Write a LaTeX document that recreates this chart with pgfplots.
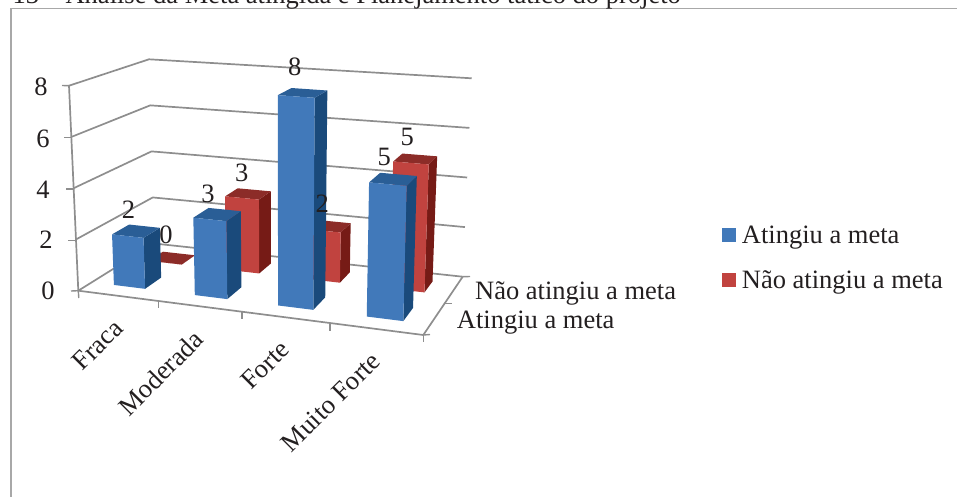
\documentclass[border=0pt]{standalone}
\usepackage{fontspec}
\setmainfont{Liberation Serif}
\usepackage{pgfplots}
\pgfplotsset{compat=1.18}

\definecolor{bluefront}{HTML}{4179BA}
\definecolor{bluetop}{HTML}{2A5E96}
\definecolor{blueside}{HTML}{1A4A7B}
\definecolor{redfront}{HTML}{C1433F}
\definecolor{redtop}{HTML}{8C2C28}
\definecolor{redside}{HTML}{761B16}
\definecolor{gridgray}{HTML}{8E8E8E}
\definecolor{framegray}{HTML}{A8A8A8}
\definecolor{txt}{HTML}{231F20}

% Projects chart space (X along categories, Y in depth, V the value 0..8)
% onto the page through the eight corners of the chart box.
\newcommand\addpt[3]{%
  \pgfmathsetmacro{\Zz}{(#3)/8}%
  \pgfmathsetmacro{\Fx}{(1-#1)*(1-#2)*78.3+#1*(1-#2)*423.3+#1*#2*462.7+(1-#1)*#2*154}%
  \pgfmathsetmacro{\Fy}{(1-#1)*(1-#2)*290.7+#1*(1-#2)*335+#1*#2*276.7+(1-#1)*#2*243.5}%
  \pgfmathsetmacro{\Tx}{(1-#1)*(1-#2)*69+#1*(1-#2)*429.3+#1*#2*471.7+(1-#1)*#2*149}%
  \pgfmathsetmacro{\Ty}{(1-#1)*(1-#2)*85.7+#1*(1-#2)*113+#1*#2*78.3+(1-#1)*#2*59.3}%
  \pgfmathsetmacro{\Px}{(1-\Zz)*\Fx+\Zz*\Tx}%
  \pgfmathsetmacro{\Py}{(1-\Zz)*\Fy+\Zz*\Ty}%
  \xdef\ptlist{\ptlist (\Px,\Py)}%
}
\newcommand\emitpts[1]{%
  \edef\plotcmd{\noexpand\addplot[#1] coordinates {\ptlist};}\plotcmd
  \gdef\ptlist{}%
}
\gdef\ptlist{}
% the three visible faces of a bar
\newcommand\drawbar[8]{% Xleft Xright Yfront Yback value front top side
  \addpt{#2}{#3}{0}\addpt{#2}{#4}{0}\addpt{#2}{#4}{#5}\addpt{#2}{#3}{#5}%
  \emitpts{fill=#8,draw=none,no marks,forget plot}%
  \addpt{#1}{#3}{#5}\addpt{#2}{#3}{#5}\addpt{#2}{#4}{#5}\addpt{#1}{#4}{#5}%
  \emitpts{fill=#7,draw=none,no marks,forget plot}%
  \addpt{#1}{#3}{0}\addpt{#2}{#3}{0}\addpt{#2}{#3}{#5}\addpt{#1}{#3}{#5}%
  \emitpts{fill=#6,draw=none,no marks,forget plot}%
}
\newcommand\gridline[1]{%
  \addpt{0}{0}{#1}\addpt{0}{1}{#1}\addpt{1}{1}{#1}%
  \emitpts{draw=gridgray,line width=1.7pt,no marks,forget plot}%
}

\tikzset{lab/.style={font=\fontsize{26.5}{30}\selectfont,text=txt,inner sep=0pt}}

\begin{document}
\begin{tikzpicture}[x=1pt,y=1pt]
\path[use as bounding box] (0,0) rectangle (957,497);
\begin{axis}[
  at={(0,0)},anchor=south west,
  width=957pt,height=497pt,scale only axis,
  xmin=0,xmax=957,ymin=0,ymax=497,y dir=reverse,
  hide axis,clip=false,
]
  % outer frame
  \addplot[draw=framegray,line width=1.6pt,no marks,forget plot]
    coordinates {(11,497) (11,8.5) (957,8.5)};

  % gridlines on the side and back walls
  \gridline{8}\gridline{6}\gridline{4}\gridline{2}\gridline{0}
  % value axis and floor edges
  \addpt{0}{0}{8}\addpt{0}{0}{0}\addpt{1}{0}{0}\addpt{1}{1}{0}%
  \emitpts{draw=gridgray,line width=1.7pt,no marks,forget plot}%
  % tick marks
  \addplot[draw=gridgray,line width=1.4pt,no marks,forget plot] coordinates {(62,85.5) (69,85.7)};
  \addplot[draw=gridgray,line width=1.4pt,no marks,forget plot] coordinates {(64,137.7) (71,137.7)};
  \addplot[draw=gridgray,line width=1.4pt,no marks,forget plot] coordinates {(66,189) (73,189)};
  \addplot[draw=gridgray,line width=1.4pt,no marks,forget plot] coordinates {(68,240.7) (75,240.7)};
  \addplot[draw=gridgray,line width=1.4pt,no marks,forget plot] coordinates {(71,291) (78.3,290.7)};
  \addplot[draw=gridgray,line width=1.4pt,no marks,forget plot] coordinates {(78.3,290.7) (78.8,298)};
  \addplot[draw=gridgray,line width=1.4pt,no marks,forget plot] coordinates {(158.5,301) (158.5,308)};
  \addplot[draw=gridgray,line width=1.4pt,no marks,forget plot] coordinates {(242,312) (242,319)};
  \addplot[draw=gridgray,line width=1.4pt,no marks,forget plot] coordinates {(330,324) (330,331)};
  \addplot[draw=gridgray,line width=1.4pt,no marks,forget plot] coordinates {(423.3,335) (423.3,342)};
  \addplot[draw=gridgray,line width=1.4pt,no marks,forget plot] coordinates {(423.3,335) (430,334.5)};
  \addplot[draw=gridgray,line width=1.4pt,no marks,forget plot] coordinates {(444,303.5) (451.5,303.5)};
  \addplot[draw=gridgray,line width=1.4pt,no marks,forget plot] coordinates {(462.7,276.7) (470,276.5)};

  % Não atingiu a meta
  \drawbar{.06}{.162}{.68}{.87}{0}{redfront}{redtop}{redside}
  \drawbar{.30}{.404}{.68}{.87}{3}{redfront}{redtop}{redside}
  \drawbar{.55}{.656}{.68}{.87}{2}{redfront}{redtop}{redside}
  \drawbar{.812}{.92}{.68}{.87}{5}{redfront}{redtop}{redside}
  % Atingiu a meta
  \drawbar{.065}{.157}{.18}{.41}{2}{bluefront}{bluetop}{blueside}
  \drawbar{.304}{.40}{.18}{.41}{3}{bluefront}{bluetop}{blueside}
  \drawbar{.55}{.654}{.18}{.41}{8}{bluefront}{bluetop}{blueside}
  \drawbar{.812}{.92}{.18}{.41}{5}{bluefront}{bluetop}{blueside}

  % legend swatches
  \addplot[fill=bluefront,draw=none,no marks,forget plot] coordinates {(722,228.3) (736,228.3) (736,242.3) (722,242.3)};
  \addplot[fill=redfront,draw=none,no marks,forget plot] coordinates {(722,273.3) (736,273.3) (736,287.3) (722,287.3)};

  % value axis numbers
  \node[lab] at (axis cs:41,87) {8};
  \node[lab] at (axis cs:43,139) {6};
  \node[lab] at (axis cs:43,190) {4};
  \node[lab] at (axis cs:46,240) {2};
  \node[lab] at (axis cs:48,291) {0};

  % value labels
  \node[lab] at (axis cs:128.5,210) {2};
  \node[lab] at (axis cs:166,235) {0};
  \node[lab] at (axis cs:208,194) {3};
  \node[lab] at (axis cs:241.7,173) {3};
  \node[lab] at (axis cs:294.7,67) {8};
  \node[lab] at (axis cs:322.3,204) {2};
  \node[lab] at (axis cs:384.3,157) {5};
  \node[lab] at (axis cs:407.3,136.7) {5};

  % category names
  \node[lab,rotate=45] at (axis cs:97.5,345) {Fraca};
  \node[lab,rotate=45] at (axis cs:160.7,373) {Moderada};
  \node[lab,rotate=45] at (axis cs:265.3,365) {Forte};
  \node[lab,rotate=45] at (axis cs:330.7,402) {Muito Forte};

  % depth axis names
  \node[lab,anchor=base west] at (axis cs:475,299) {Não atingiu a meta};
  \node[lab,anchor=base west] at (axis cs:456.7,328.3) {Atingiu a meta};

  % legend entries
  \node[lab,anchor=base west] at (axis cs:741.7,243.3) {Atingiu a meta};
  \node[lab,anchor=base west] at (axis cs:741.7,288.3) {Não atingiu a meta};

  % caption running off the top edge
  \node[lab,anchor=base east] at (axis cs:681,4) {13 – Análise da Meta atingida e Planejamento tático do projeto};
\end{axis}
\end{tikzpicture}
\end{document}
